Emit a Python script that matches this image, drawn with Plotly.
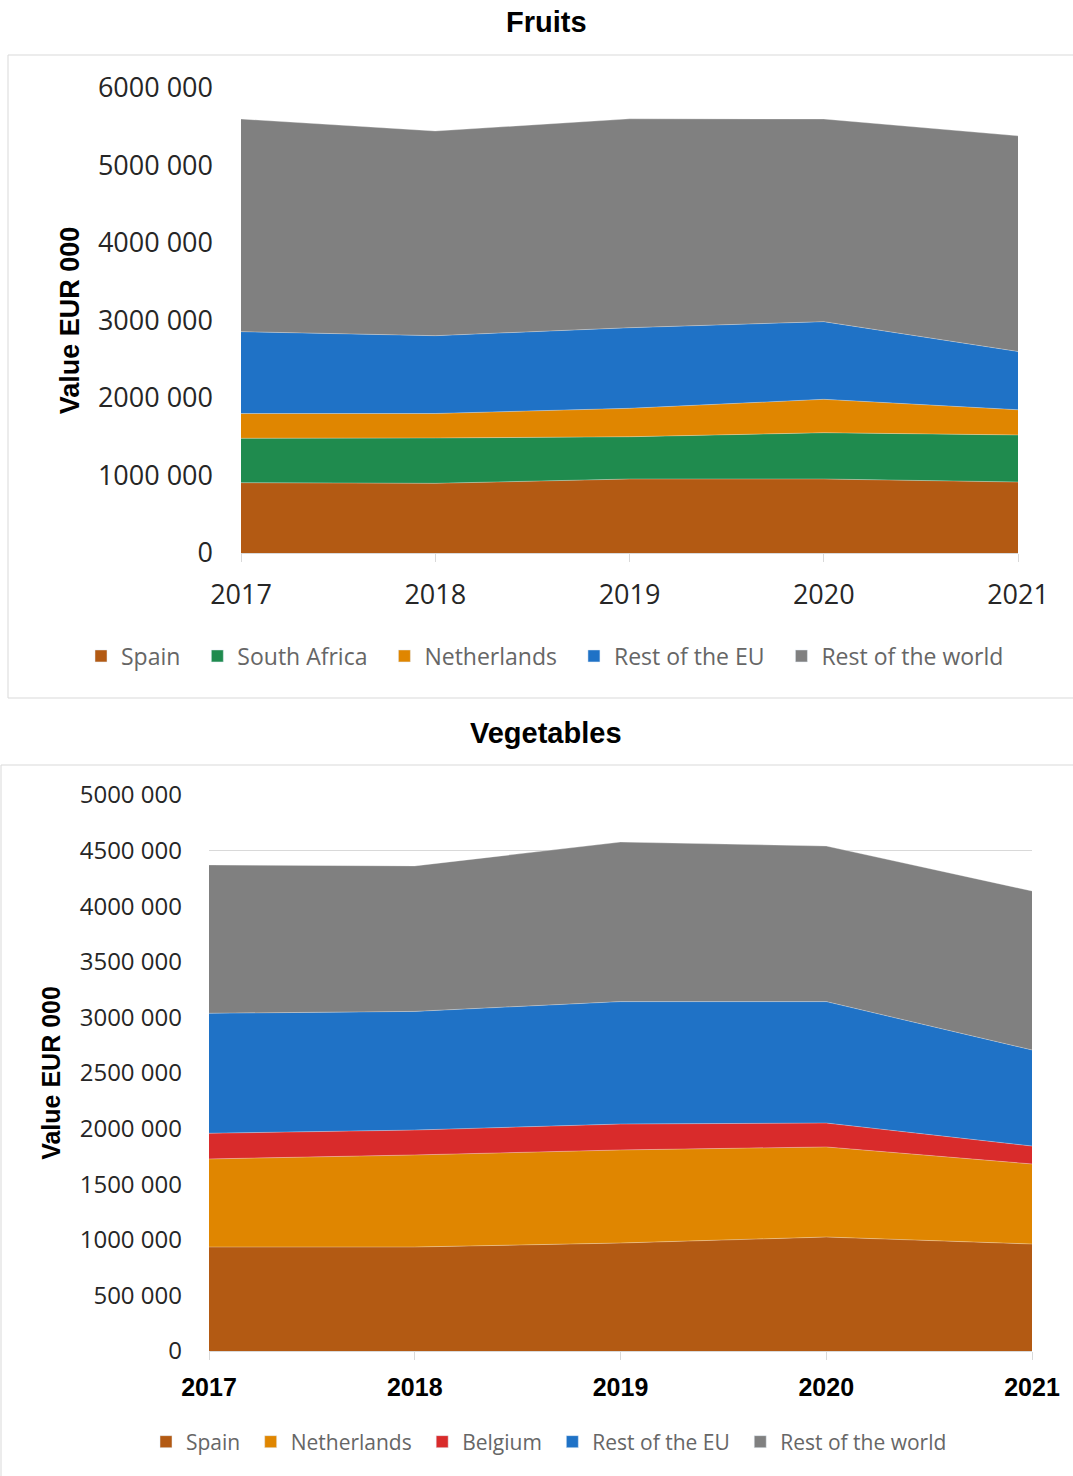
import plotly.graph_objects as go

# ---- data (EUR 000) ----
years = [2017, 2018, 2019, 2020, 2021]
year_labels = ["2017", "2018", "2019", "2020", "2021"]

fruit_spain = [907000, 899000, 955000, 955000, 916000]
fruit_south_africa = [573000, 585000, 545000, 597000, 607000]
fruit_netherlands = [320000, 316000, 367000, 431000, 325000]
fruit_rest_eu = [1056000, 1004000, 1040000, 1002000, 752000]
fruit_rest_world = [2744000, 2641000, 2695000, 2615000, 2783000]

veg_spain = [935000, 935000, 971000, 1025000, 962000]
veg_netherlands = [792000, 828000, 837000, 810000, 720000]
veg_belgium = [231000, 224000, 233000, 215000, 161000]
veg_rest_eu = [1079000, 1067000, 1101000, 1092000, 864000]
veg_rest_world = [1334000, 1308000, 1435000, 1399000, 1430000]

fruit_ticks = [0, 1000000, 2000000, 3000000, 4000000, 5000000, 6000000]
fruit_ticktext = ["0", "1000 000", "2000 000", "3000 000", "4000 000", "5000 000", "6000 000"]
veg_ticks = [0, 500000, 1000000, 1500000, 2000000, 2500000, 3000000, 3500000, 4000000, 4500000, 5000000]
veg_ticktext = ["0", "500 000", "1000 000", "1500 000", "2000 000", "2500 000", "3000 000",
                "3500 000", "4000 000", "4500 000", "5000 000"]

COLORS = {
    "Spain": "#B35A13",
    "South Africa": "#1F8B4E",
    "Netherlands": "#E08600",
    "Belgium": "#D92B2B",
    "Rest of the EU": "#1F72C6",
    "Rest of the world": "#808080",
}

W, H = 1073, 1476
fig = go.Figure()


def add_stack(names_values, xaxis, yaxis, group, legend, pad):
    for name, vals in names_values:
        fig.add_trace(go.Scatter(
            x=years, y=vals, name=name, mode="lines",
            stackgroup=group, xaxis=xaxis, yaxis=yaxis,
            line=dict(width=1, color="rgba(255,255,255,0.3)"),
            fillcolor=COLORS[name], showlegend=False,
        ))
    # square legend swatches (non-breaking spaces widen the gap between entries)
    for name, _ in names_values:
        fig.add_trace(go.Bar(
            x=[None], y=[None], name=name + "\u00a0" * pad, marker_color=COLORS[name],
            xaxis=xaxis, yaxis=yaxis, legend=legend, showlegend=True,
        ))


add_stack([("Spain", fruit_spain), ("South Africa", fruit_south_africa),
           ("Netherlands", fruit_netherlands), ("Rest of the EU", fruit_rest_eu),
           ("Rest of the world", fruit_rest_world)], "x", "y", "fruits", "legend", 2)
add_stack([("Spain", veg_spain), ("Netherlands", veg_netherlands),
           ("Belgium", veg_belgium), ("Rest of the EU", veg_rest_eu),
           ("Rest of the world", veg_rest_world)], "x2", "y2", "veg", "legend2", 1)


def px_x(v):
    return v / W


def px_y(v):
    return 1 - v / H


grid = "#D9D9D9"
tick_font = dict(family="Open Sans, sans-serif", size=27, color="#262626")

fig.update_layout(
    width=W, height=H,
    margin=dict(l=0, r=0, t=0, b=0, autoexpand=False),
    paper_bgcolor="white", plot_bgcolor="white",
    barmode="overlay",
    xaxis=dict(domain=[px_x(241), px_x(1018)], range=[2017, 2021],
               tickvals=years, ticktext=year_labels, tickfont=tick_font,
               showgrid=False, showline=True, linecolor=grid,
               ticks="outside", ticklen=8, tickcolor=grid, zeroline=False,
               ticklabelstandoff=10,
               anchor="y", fixedrange=True, automargin=False),
    yaxis=dict(domain=[px_y(553), px_y(88)], range=[0, 6000000],
               tickvals=fruit_ticks, ticktext=fruit_ticktext, tickfont=tick_font,
               showgrid=True, gridcolor=grid, zeroline=False, ticks="",
               ticklabelstandoff=27,
               title=dict(text="<b>Value EUR 000</b>", standoff=10,
                          font=dict(family="Liberation Sans, Arial", size=27, color="#000")),
               anchor="x", fixedrange=True, automargin=False),
    xaxis2=dict(domain=[px_x(209), px_x(1032)], range=[2017, 2021],
                tickvals=years, ticktext=["<b>%s</b>" % y for y in year_labels],
                tickfont=dict(family="Liberation Sans, Arial", size=25, color="#000"),
                showgrid=False, showline=True, linecolor=grid,
                ticks="outside", ticklen=8, tickcolor=grid, zeroline=False,
                ticklabelstandoff=6,
                anchor="y2", fixedrange=True, automargin=False),
    yaxis2=dict(domain=[px_y(1351), px_y(795)], range=[0, 5000000],
                tickvals=veg_ticks, ticktext=veg_ticktext,
                tickfont=dict(family="Open Sans, sans-serif", size=24, color="#262626"),
                showgrid=True, gridcolor=grid, zeroline=False, ticks="",
                ticklabelstandoff=26,
                title=dict(text="<b>Value EUR 000</b>", standoff=11,
                           font=dict(family="Liberation Sans, Arial", size=25, color="#000")),
                anchor="x2", fixedrange=True, automargin=False),
    legend=dict(orientation="h", x=px_x(81), y=px_y(656), xanchor="left", yanchor="middle",
                font=dict(family="Open Sans, sans-serif", size=23, color="#666666"),
                itemwidth=30, traceorder="normal", bgcolor="rgba(0,0,0,0)"),
    legend2=dict(orientation="h", x=px_x(146), y=px_y(1442), xanchor="left", yanchor="middle",
                 font=dict(family="Open Sans, sans-serif", size=21, color="#666666"),
                 itemwidth=30, traceorder="normal", bgcolor="rgba(0,0,0,0)"),
    shapes=[
        dict(type="rect", xref="paper", yref="paper",
             x0=px_x(8), x1=1.01, y0=px_y(698), y1=px_y(55),
             line=dict(color=grid, width=1), layer="below"),
        dict(type="rect", xref="paper", yref="paper",
             x0=px_x(1), x1=1.01, y0=-0.01, y1=px_y(765),
             line=dict(color=grid, width=1), layer="below"),
    ],
    annotations=[
        dict(text="<b>Fruits</b>", xref="paper", yref="paper", x=px_x(546), y=px_y(22),
             showarrow=False, xanchor="center", yanchor="middle",
             font=dict(family="Liberation Sans, Arial", size=29, color="#000")),
        dict(text="<b>Vegetables</b>", xref="paper", yref="paper", x=px_x(546), y=px_y(733),
             showarrow=False, xanchor="center", yanchor="middle",
             font=dict(family="Liberation Sans, Arial", size=29, color="#000")),
    ],
)

fig.write_html("out.html")
